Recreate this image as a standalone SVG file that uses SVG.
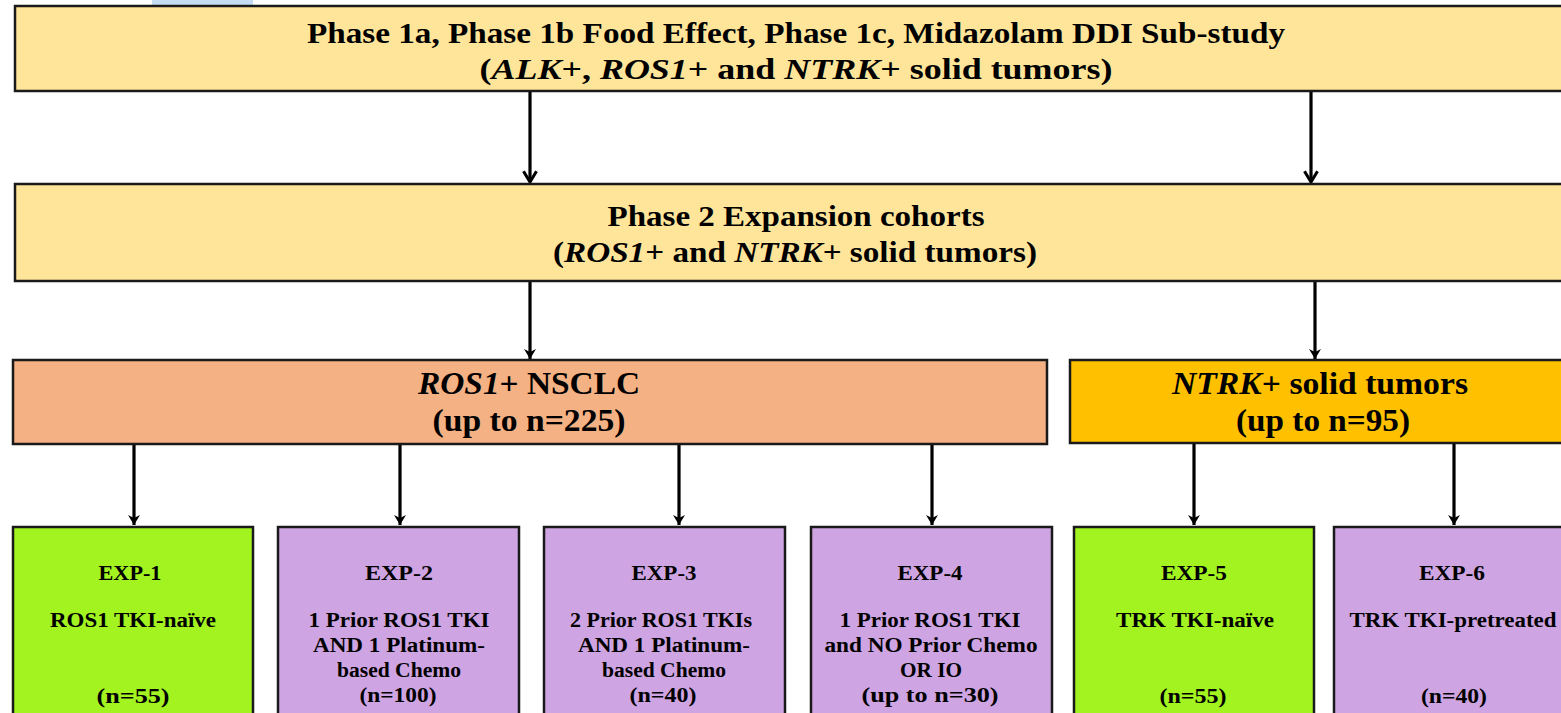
<svg xmlns="http://www.w3.org/2000/svg" width="1561" height="713" viewBox="0 0 1561 713">
<style>
.box{stroke:#1a1a1a;stroke-width:2.5}
.y{fill:#FFE599}.o{fill:#F4B183}.g{fill:#FFC000}.gr{fill:#A2F320}.p{fill:#CEA4E2}
text{font-family:"Liberation Serif","Times New Roman",serif;font-weight:bold;fill:#000;text-anchor:middle}
.big{font-size:30px}
.mid{font-size:31px}
.sm{font-size:20px}
.conn line{stroke:#000;stroke-width:3.2}
</style>
<defs>
<marker id="v" viewBox="0 0 12 14" refX="11" refY="7" markerWidth="13" markerHeight="16" markerUnits="userSpaceOnUse" orient="auto">
<path d="M1,1 L11,7 L1,13" fill="none" stroke="#000" stroke-width="2.8"/>
</marker>
<marker id="t" viewBox="0 0 10 12" refX="10" refY="6" markerWidth="10" markerHeight="12" markerUnits="userSpaceOnUse" orient="auto">
<path d="M0,0 L10,6 L0,12 L3,6 Z" fill="#000"/>
</marker>
</defs>
<rect x="0" y="0" width="1561" height="713" fill="#fff"/>
<rect x="152" y="0" width="101" height="5" fill="#C5DCF5"/>
<g class="conn">
<line x1="530" y1="92" x2="530" y2="182" marker-end="url(#v)"/>
<line x1="1311" y1="92" x2="1311" y2="182" marker-end="url(#v)"/>
<line x1="530" y1="282" x2="530" y2="359" marker-end="url(#t)"/>
<line x1="1315" y1="282" x2="1315" y2="359" marker-end="url(#t)"/>
<line x1="134" y1="445" x2="134" y2="525" marker-end="url(#t)"/>
<line x1="400" y1="445" x2="400" y2="525" marker-end="url(#t)"/>
<line x1="679" y1="445" x2="679" y2="525" marker-end="url(#t)"/>
<line x1="932" y1="445" x2="932" y2="525" marker-end="url(#t)"/>
<line x1="1194" y1="444" x2="1194" y2="525" marker-end="url(#t)"/>
<line x1="1454" y1="444" x2="1454" y2="525" marker-end="url(#t)"/>
</g>
<g id="phase1">
<rect class="box y" x="15" y="6" width="1560" height="85"/>
<text class="big" x="796" y="43" textLength="978" lengthAdjust="spacingAndGlyphs">Phase 1a, Phase 1b Food Effect, Phase 1c, Midazolam DDI Sub-study</text>
<text class="big" x="796" y="79" textLength="633" lengthAdjust="spacingAndGlyphs">(<tspan font-style="italic">ALK</tspan>+, <tspan font-style="italic">ROS1</tspan>+ and <tspan font-style="italic">NTRK</tspan>+ solid tumors)</text>
</g>
<g id="phase2">
<rect class="box y" x="15" y="184" width="1560" height="97"/>
<text class="big" x="796" y="226" textLength="377" lengthAdjust="spacingAndGlyphs">Phase 2 Expansion cohorts</text>
<text class="big" x="795" y="262" textLength="484" lengthAdjust="spacingAndGlyphs">(<tspan font-style="italic">ROS1</tspan>+ and <tspan font-style="italic">NTRK</tspan>+ solid tumors)</text>
</g>
<g id="ros1">
<rect class="box o" x="13" y="360" width="1034" height="84"/>
<text class="mid" x="529" y="394" textLength="222" lengthAdjust="spacingAndGlyphs"><tspan font-style="italic">ROS1</tspan>+ NSCLC</text>
<text class="mid" x="529" y="431" textLength="193" lengthAdjust="spacingAndGlyphs">(up to n=225)</text>
</g>
<g id="ntrk">
<rect class="box g" x="1070" y="360" width="505" height="83"/>
<text class="mid" x="1320" y="394" textLength="296" lengthAdjust="spacingAndGlyphs"><tspan font-style="italic">NTRK</tspan>+ solid tumors</text>
<text class="mid" x="1323" y="431" textLength="174" lengthAdjust="spacingAndGlyphs">(up to n=95)</text>
</g>
<g id="exp1">
<rect class="box gr" x="13" y="527" width="240" height="200"/>
<text class="sm" x="130" y="580" textLength="63" lengthAdjust="spacingAndGlyphs">EXP-1</text>
<text class="sm" x="133" y="627" textLength="166" lengthAdjust="spacingAndGlyphs">ROS1 TKI-naïve</text>
<text class="sm" x="133" y="703" textLength="73" lengthAdjust="spacingAndGlyphs">(n=55)</text>
</g>
<g id="exp2">
<rect class="box p" x="278" y="527" width="241" height="200"/>
<text class="sm" x="399" y="580" textLength="68" lengthAdjust="spacingAndGlyphs">EXP-2</text>
<text class="sm" x="399" y="627" textLength="181" lengthAdjust="spacingAndGlyphs">1 Prior ROS1 TKI</text>
<text class="sm" x="399" y="652" textLength="172" lengthAdjust="spacingAndGlyphs">AND 1 Platinum-</text>
<text class="sm" x="399" y="677" textLength="124" lengthAdjust="spacingAndGlyphs">based Chemo</text>
<text class="sm" x="398" y="702" textLength="77" lengthAdjust="spacingAndGlyphs">(n=100)</text>
</g>
<g id="exp3">
<rect class="box p" x="544" y="527" width="241" height="200"/>
<text class="sm" x="664" y="580" textLength="65" lengthAdjust="spacingAndGlyphs">EXP-3</text>
<text class="sm" x="661" y="627" textLength="182" lengthAdjust="spacingAndGlyphs">2 Prior ROS1 TKIs</text>
<text class="sm" x="664" y="652" textLength="172" lengthAdjust="spacingAndGlyphs">AND 1 Platinum-</text>
<text class="sm" x="664" y="677" textLength="124" lengthAdjust="spacingAndGlyphs">based Chemo</text>
<text class="sm" x="663" y="702" textLength="67" lengthAdjust="spacingAndGlyphs">(n=40)</text>
</g>
<g id="exp4">
<rect class="box p" x="811" y="527" width="241" height="200"/>
<text class="sm" x="930" y="580" textLength="65" lengthAdjust="spacingAndGlyphs">EXP-4</text>
<text class="sm" x="930" y="627" textLength="181" lengthAdjust="spacingAndGlyphs">1 Prior ROS1 TKI</text>
<text class="sm" x="931" y="652" textLength="213" lengthAdjust="spacingAndGlyphs">and NO Prior Chemo</text>
<text class="sm" x="931" y="677" textLength="62" lengthAdjust="spacingAndGlyphs">OR IO</text>
<text class="sm" x="930" y="702" textLength="137" lengthAdjust="spacingAndGlyphs">(up to n=30)</text>
</g>
<g id="exp5">
<rect class="box gr" x="1074" y="527" width="240" height="200"/>
<text class="sm" x="1194" y="580" textLength="66" lengthAdjust="spacingAndGlyphs">EXP-5</text>
<text class="sm" x="1195" y="627" textLength="158" lengthAdjust="spacingAndGlyphs">TRK TKI-naïve</text>
<text class="sm" x="1193" y="703" textLength="67" lengthAdjust="spacingAndGlyphs">(n=55)</text>
</g>
<g id="exp6">
<rect class="box p" x="1334" y="527" width="241" height="200"/>
<text class="sm" x="1452" y="580" textLength="66" lengthAdjust="spacingAndGlyphs">EXP-6</text>
<text class="sm" x="1453" y="627" textLength="207" lengthAdjust="spacingAndGlyphs">TRK TKI-pretreated</text>
<text class="sm" x="1454" y="703" textLength="66" lengthAdjust="spacingAndGlyphs">(n=40)</text>
</g>
</svg>
